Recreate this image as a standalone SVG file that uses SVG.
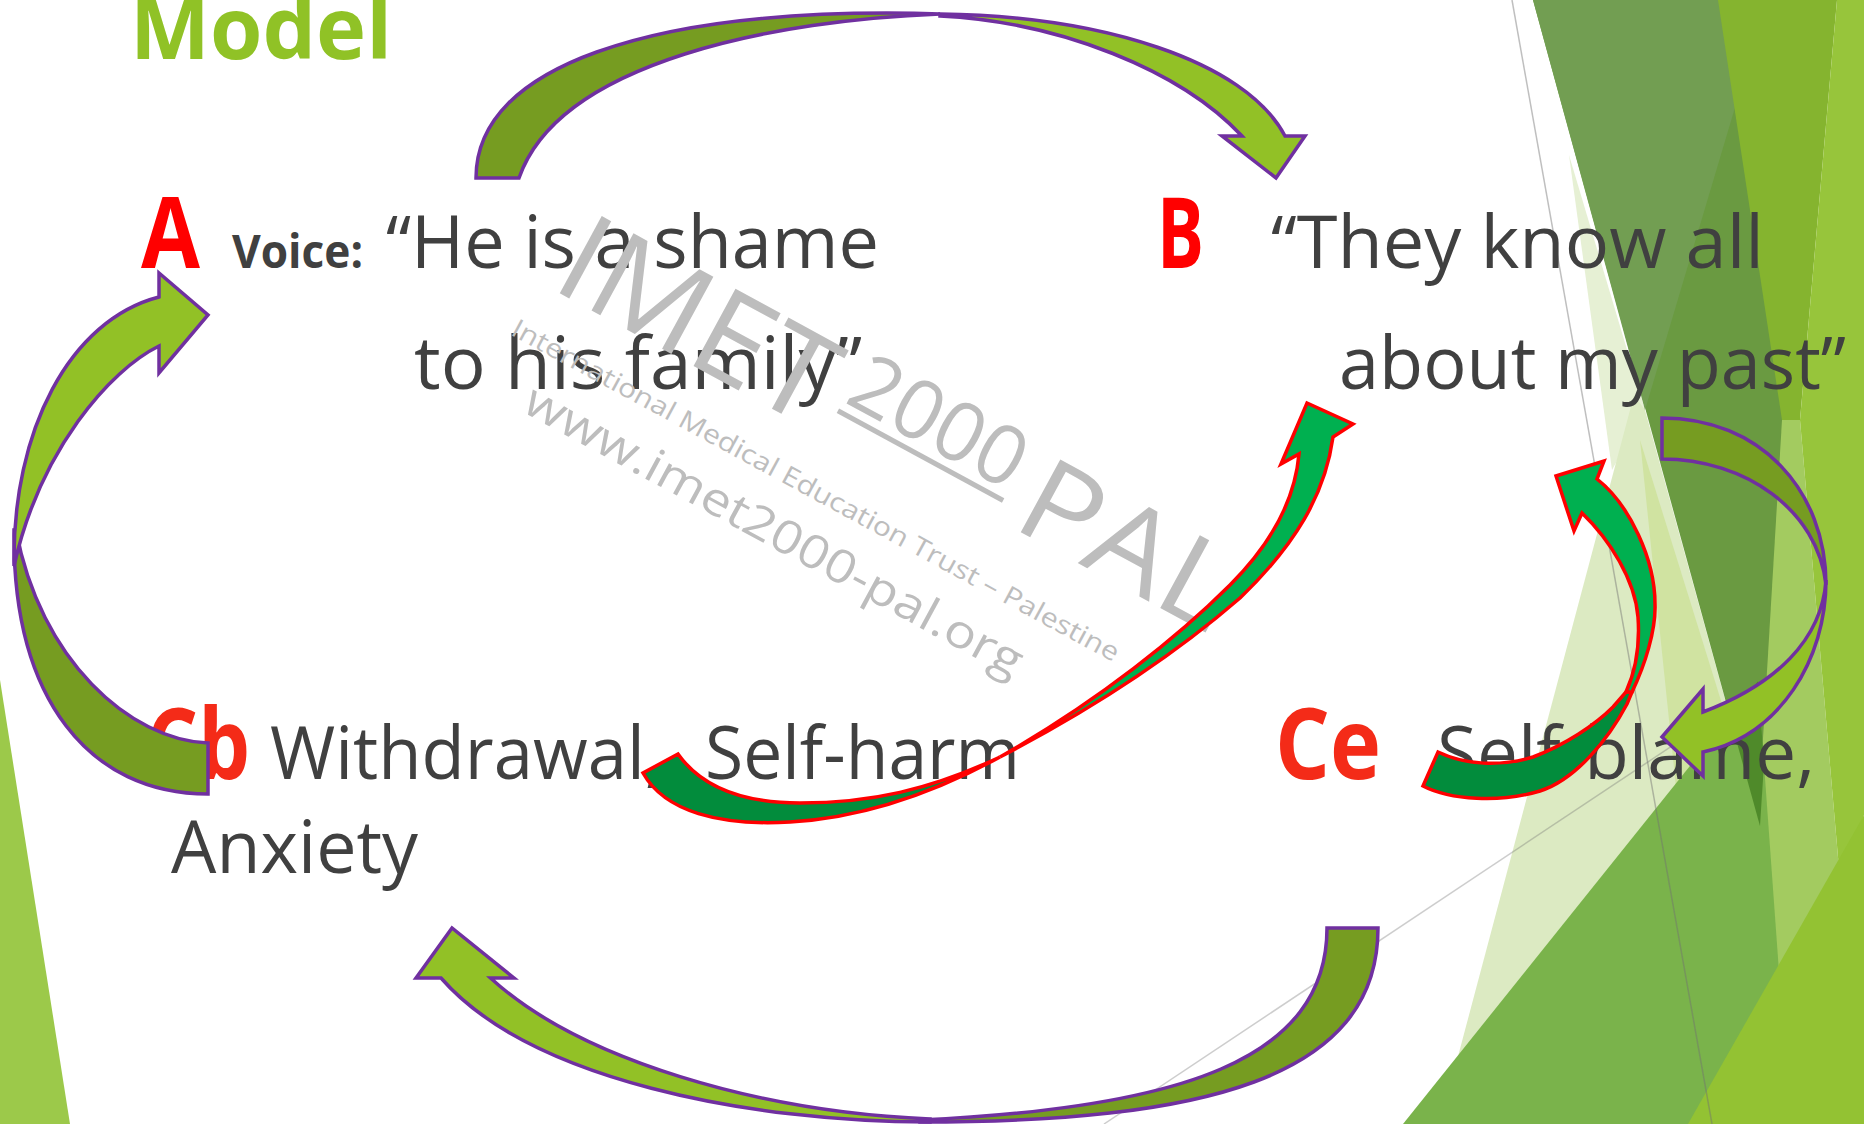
<svg xmlns="http://www.w3.org/2000/svg" width="1864" height="1124" viewBox="0 0 1864 1124">
<style>
.t{font-family:'Open Sans','Liberation Sans',sans-serif;fill:#404040}
.lbl{font-family:'Open Sans','Liberation Sans',sans-serif;font-weight:700}
.wm{font-family:'Open Sans','Liberation Sans',sans-serif;fill:#BDBDBD}
.po{stroke:#7030A0;stroke-width:3.5;stroke-linejoin:miter}
.ro{stroke:#FF0000;stroke-width:3.5;stroke-linejoin:miter}
.lg{fill:#92C126}.dg{fill:#769C21}.bgr{fill:#00B050}.dk{fill:#028C3C}
</style>
<rect width="1864" height="1124" fill="#FFFFFF"/>
<g id="background">
  <polygon points="0,680 70,1124 0,1124" fill="#9CC94A"/>
  <polygon points="1569,155 1645,410 1612,470" fill="#E6F0D4"/>
  <polygon points="1634,395 1645,410 1760,826 1720,1124 1440,1124" fill="#DCEAC2"/>
  <polygon points="1640,440 1760,826 1680,826" fill="#D0E3A1"/>
  <line x1="1104" y1="1124" x2="1720" y2="714" stroke="#707070" stroke-opacity="0.35" stroke-width="1.5"/>
  <polygon points="1533,0 1718,0 1785,420 1760,826" fill="#6A9A41"/>
  <polygon points="1533,0 1767,0 1645,410" fill="#729E52"/>
  <polygon points="1718,0 1837,0 1800,420 1782,420" fill="#85B42F"/>
  <polygon points="1782,420 1800,420 1840,880 1800,1124 1740,1124" fill="#A3CB60"/>
  <polygon points="1837,0 1864,0 1864,815 1840,880 1800,420" fill="#97C53B"/>
  <polygon points="1403,1124 1758,681 1790,1124" fill="#7AB34B"/>
  <polygon points="1729.7,716.5 1758,681 1764,763 1760,826" fill="#4F8A2A"/>
  <polygon points="1688,1124 1864,815 1864,1124" fill="#93C233"/>
  <line x1="1512" y1="0" x2="1712" y2="1124" stroke="#707070" stroke-opacity="0.45" stroke-width="1.5"/>
</g>
<g id="title"><text class="lbl" x="130" y="59" font-size="86" fill="#90C226" textLength="262" lengthAdjust="spacingAndGlyphs">Model</text></g>
<g id="nodeA">
  <text class="lbl" x="141" y="268" font-size="98" fill="#FF0000" textLength="59" lengthAdjust="spacingAndGlyphs">A</text>
  <text class="t" x="232" y="268" font-size="46" font-weight="700" textLength="131" lengthAdjust="spacingAndGlyphs">Voice:</text>
  <text class="t" x="386" y="268" font-size="74" textLength="493" lengthAdjust="spacingAndGlyphs">“He is a shame</text>
  <text class="t" x="414" y="389" font-size="74" textLength="448" lengthAdjust="spacingAndGlyphs">to his family”</text>
</g>
<g id="nodeB">
  <text class="lbl" x="1157" y="268" font-size="98" fill="#FF0000" textLength="47" lengthAdjust="spacingAndGlyphs">B</text>
  <text class="t" x="1271" y="268" font-size="74" textLength="493" lengthAdjust="spacingAndGlyphs">“They know all</text>
  <text class="t" x="1339" y="389" font-size="74" textLength="507" lengthAdjust="spacingAndGlyphs">about my past”</text>
</g>
<g id="nodeCb">
  <text class="lbl" x="146" y="779" font-size="98" fill="#F42B18" textLength="104" lengthAdjust="spacingAndGlyphs">Cb</text>
  <text class="t" x="270" y="779" font-size="74" textLength="393" lengthAdjust="spacingAndGlyphs">Withdrawal,</text>
  <text class="t" x="705" y="779" font-size="74" textLength="315" lengthAdjust="spacingAndGlyphs">Self-harm</text>
  <text class="t" x="171" y="873" font-size="74" textLength="247" lengthAdjust="spacingAndGlyphs">Anxiety</text>
</g>
<g id="nodeCe">
  <text class="lbl" x="1275" y="779" font-size="98" fill="#F42B18" textLength="106" lengthAdjust="spacingAndGlyphs">Ce</text>
  <text class="t" x="1437" y="779" font-size="74" textLength="378" lengthAdjust="spacingAndGlyphs">Self-blame,</text>
</g>
<g id="watermark" transform="translate(632,287) rotate(28.5)">
  <text class="wm" x="-73" y="40" font-size="123" textLength="295" lengthAdjust="spacingAndGlyphs">IMET</text>
  <text class="wm" x="240" y="0" font-size="82" textLength="188" lengthAdjust="spacingAndGlyphs">2000</text>
  <rect x="240" y="8" width="188" height="5" fill="#BDBDBD"/>
  <text class="wm" x="446" y="30" font-size="116" textLength="226" lengthAdjust="spacingAndGlyphs">PAL</text>
  <text class="wm" x="-85" y="100" font-size="26" textLength="687" lengthAdjust="spacingAndGlyphs">International Medical Education Trust – Palestine</text>
  <text class="wm" x="-39" y="162" font-size="46" textLength="560" lengthAdjust="spacingAndGlyphs">www.imet2000-pal.org</text>
</g>
<g id="connectors">
  <path class="dg po" d="M476,178 C476,62 661,13 887,13 Q915,13 940,14 C780,20 560,60 519,178 Z"/>
  <path class="lg po" d="M940,14 C1100,16 1245,60 1285,136 L1305,136 L1276,178 L1222,136 L1242,136 C1180,70 1060,22 940,16 Z"/>
  <path class="dg po" d="M14,530 C12,700 90,794 208,794 L208,743 C130,740 40,660 16,530 Z"/>
  <path class="lg po" d="M14,566 C12,430 70,320 159,297 L159,273 L208,315 L159,373 L159,346 C110,370 40,450 14,566 Z"/>
  <path class="dg po" d="M1826,585 C1826,490 1760,418 1662,418 L1662,459 C1745,459 1818,510 1826,585 Z"/>
  <path class="lg po" d="M1826,580 C1826,660 1780,735 1703,752 L1703,776 L1662,737 L1703,689 L1703,712 C1775,685 1822,640 1826,580 Z"/>
  <path class="dg po" d="M920,1122 C1200,1122 1378,1080 1378,928 L1327,928 C1327,1060 1180,1108 920,1120 Z"/>
  <path class="lg po" d="M930,1122 C750,1122 530,1080 441,978 L416,978 L452,928 L514,978 L490.5,978 C580,1060 760,1112 930,1119 Z"/>
  <path class="dk ro" d="M643,773 C665,812 720,826 790,822 C860,818 930,795 1000,757 C930,790 870,803 800,803 C740,803 700,785 678,754 Z"/>
  <path class="bgr ro" d="M1000,757 C1100,705 1180,650 1240,598 C1295,545 1325,495 1333,437 L1353,424 L1307,403 L1281,464 L1299,454 C1295,500 1270,545 1230,585 C1180,635 1100,700 1000,757 Z"/>
  <path class="dk ro" d="M1423,786 C1450,800 1500,803 1540,791 C1575,780 1608,740 1627,704 L1632,692 L1626,692 L1613,707 C1595,725 1565,745 1533,757 C1500,767 1465,765 1438,752 Z"/>
  <path class="bgr ro" d="M1632,692 C1645,665 1656,630 1655,604 C1655,560 1630,505 1597,479 L1604,461 L1556,476 L1574,531 L1582,513 C1610,540 1635,580 1638,617 C1640,645 1636,670 1626,692 Z"/>
</g>
</svg>
